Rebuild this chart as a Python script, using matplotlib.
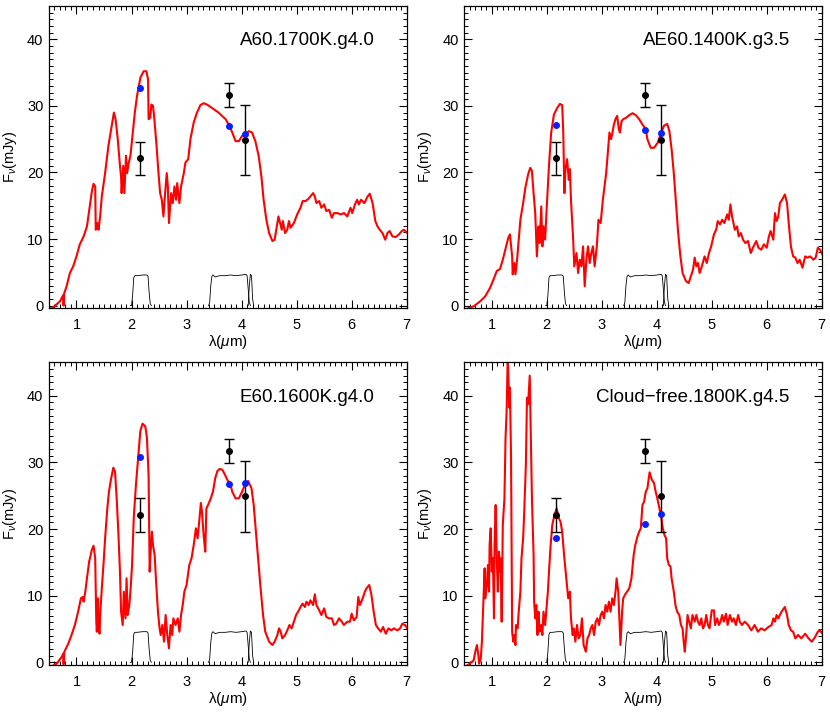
import numpy as np
import matplotlib
matplotlib.use('Agg')
import matplotlib.pyplot as plt

plt.rcParams['font.family'] = ['Liberation Sans', 'DejaVu Sans']
plt.rcParams['mathtext.fontset'] = 'custom'
plt.rcParams['mathtext.rm'] = 'Liberation Sans'
plt.rcParams['mathtext.it'] = 'Liberation Sans:italic'

# observed photometry (K, L', 4.05 um)
obs_wave = [2.16, 3.78, 4.07]
obs_flux = [22.1, 31.7, 24.9]
obs_err = [2.5, 1.8, 5.3]

# filter transmission curves (scaled)
k_wave = [1.98, 2.00, 2.02, 2.04, 2.06, 2.10, 2.20, 2.28, 2.30, 2.32, 2.34, 2.36]
k_tran = [0.0, 0.0, 1.5, 4.2, 4.5, 4.5, 4.6, 4.6, 4.4, 2.0, 0.3, 0.0]
lp_wave = [3.40, 3.42, 3.44, 3.46, 3.48, 3.52, 3.60, 3.70, 3.80, 3.90, 4.00, 4.08, 4.10, 4.12, 4.14, 4.16]
lp_tran = [0.0, 0.5, 3.0, 4.4, 4.6, 4.3, 4.5, 4.5, 4.6, 4.5, 4.6, 4.7, 4.5, 2.5, 0.5, 0.0]
nb_wave = [4.12, 4.14, 4.16, 4.18, 4.20, 4.22]
nb_tran = [0.0, 3.0, 4.7, 4.5, 1.0, 0.0]

# model A60.1700K.g4.0
wave_a60 = [0.50, 0.52, 0.60, 0.70, 0.76, 0.765, 0.775, 0.82, 0.88, 0.94, 1.00, 1.06, 1.13, 1.19, 1.25,
            1.28, 1.31, 1.34, 1.35, 1.38, 1.40, 1.43, 1.46, 1.52, 1.58, 1.64, 1.68, 1.71, 1.75, 1.79,
            1.81, 1.82, 1.85, 1.87, 1.90, 1.92, 1.95, 1.98, 2.01, 2.06, 2.10, 2.16, 2.22, 2.27, 2.30,
            2.31, 2.34, 2.36, 2.39, 2.41, 2.45, 2.49, 2.52, 2.55, 2.58, 2.61, 2.64, 2.66, 2.68, 2.72,
            2.75, 2.78, 2.81, 2.83, 2.87, 2.90, 2.95, 2.98, 3.03, 3.07, 3.13, 3.19, 3.25, 3.31, 3.37,
            3.46, 3.58, 3.71, 3.78, 3.83, 3.89, 3.95, 4.01, 4.07, 4.13, 4.19, 4.25, 4.31, 4.36, 4.40,
            4.45, 4.50, 4.56, 4.60, 4.63, 4.67, 4.70, 4.73, 4.75, 4.79, 4.83, 4.86, 4.89, 4.95, 5.01,
            5.07, 5.11, 5.16, 5.21, 5.25, 5.30, 5.33, 5.36, 5.41, 5.45, 5.50, 5.54, 5.59, 5.64, 5.68,
            5.74, 5.80, 5.86, 5.92, 5.98, 6.01, 6.06, 6.10, 6.13, 6.17, 6.23, 6.29, 6.33, 6.38, 6.43,
            6.47, 6.51, 6.56, 6.61, 6.65, 6.69, 6.74, 6.80, 6.86, 6.91, 6.95, 7.01]
flux_a60 = [-0.6, -0.5, -0.1, 0.65, 1.6, 0.0, 1.8, 2.9, 4.9, 5.9, 7.4, 9.2, 10.4, 11.9, 15.4,
            17.2, 18.3, 17.9, 11.4, 12.4, 11.4, 13.4, 16.4, 19.9, 24.0, 27.0, 29.0, 28.0, 25.0, 21.0,
            19.4, 16.9, 21.0, 16.9, 22.5, 19.9, 21.5, 22.5, 25.0, 29.0, 31.5, 34.2, 35.2, 35.2, 34.0,
            28.0, 28.2, 30.2, 30.0, 28.5, 24.5, 19.9, 16.9, 15.9, 13.4, 16.9, 19.9, 17.9, 12.4, 16.9,
            15.4, 17.9, 15.9, 18.4, 15.4, 17.9, 19.9, 21.5, 22.0, 25.0, 27.5, 29.0, 30.1, 30.4, 30.2,
            29.7, 29.0, 28.0, 27.0, 26.0, 24.7, 24.7, 25.5, 25.7, 26.2, 26.0, 24.7, 22.5, 19.4, 15.9,
            12.9, 10.9, 9.7, 9.9, 11.4, 13.4, 12.4, 11.4, 12.7, 10.9, 11.4, 12.7, 11.7, 12.4, 13.7,
            14.7, 15.7, 15.7, 16.0, 16.4, 16.9, 16.4, 15.4, 15.7, 14.7, 15.2, 14.2, 14.4, 13.2, 13.9,
            13.9, 13.7, 13.9, 13.4, 14.7, 13.9, 15.2, 15.9, 15.2, 15.9, 15.4, 16.4, 16.8, 15.4, 12.7,
            11.9, 11.4, 10.9, 9.9, 10.9, 11.2, 10.4, 10.3, 10.7, 11.2, 11.4, 10.9]
synth_a60 = [32.7, 27.0, 25.8]

# model AE60.1400K.g3.5
wave_ae60 = [0.50, 0.54, 0.67, 0.79, 0.88, 0.97, 1.03, 1.09, 1.15, 1.20, 1.26, 1.30, 1.33, 1.37, 1.38,
             1.41, 1.43, 1.46, 1.49, 1.52, 1.57, 1.61, 1.66, 1.70, 1.73, 1.76, 1.79, 1.82, 1.85, 1.87,
             1.90, 1.92, 1.94, 1.97, 2.00, 2.04, 2.08, 2.13, 2.19, 2.24, 2.28, 2.30, 2.32, 2.34, 2.37,
             2.40, 2.42, 2.44, 2.48, 2.50, 2.54, 2.57, 2.60, 2.63, 2.66, 2.69, 2.72, 2.75, 2.78, 2.81,
             2.84, 2.87, 2.91, 2.94, 2.98, 3.02, 3.05, 3.08, 3.11, 3.14, 3.17, 3.20, 3.22, 3.25, 3.28,
             3.31, 3.33, 3.36, 3.39, 3.44, 3.50, 3.56, 3.62, 3.68, 3.74, 3.80, 3.83, 3.89, 3.95, 4.02,
             4.06, 4.13, 4.19, 4.23, 4.27, 4.31, 4.35, 4.39, 4.43, 4.47, 4.53, 4.58, 4.62, 4.66, 4.69,
             4.72, 4.75, 4.78, 4.82, 4.87, 4.91, 4.95, 4.99, 5.04, 5.08, 5.11, 5.15, 5.19, 5.23, 5.28,
             5.31, 5.34, 5.37, 5.42, 5.46, 5.49, 5.53, 5.57, 5.61, 5.66, 5.71, 5.76, 5.81, 5.85, 5.90,
             5.95, 6.00, 6.04, 6.07, 6.12, 6.15, 6.18, 6.21, 6.24, 6.28, 6.33, 6.37, 6.40, 6.44, 6.48,
             6.52, 6.56, 6.60, 6.65, 6.70, 6.74, 6.79, 6.85, 6.89, 6.93, 6.97, 7.03]
flux_ae60 = [-0.6, -0.5, -0.1, 0.65, 1.4, 2.7, 3.9, 5.2, 5.5, 6.9, 8.9, 10.2, 10.7, 7.4, 4.7,
             6.4, 4.7, 6.9, 9.9, 12.9, 15.4, 17.7, 19.7, 20.7, 20.2, 16.9, 13.9, 7.4, 11.9, 9.4,
             14.9, 8.9, 11.9, 9.9, 14.9, 21.0, 26.0, 28.7, 29.7, 30.3, 30.1, 26.0, 16.9, 20.5, 22.0,
             18.9, 20.5, 15.9, 9.9, 5.9, 7.9, 4.9, 6.9, 5.9, 8.9, 2.9, 6.9, 8.9, 6.4, 7.9,
             8.9, 5.9, 8.9, 12.9, 12.4, 15.9, 17.9, 19.9, 23.0, 26.0, 25.0, 26.2, 27.2, 28.0, 28.5,
             26.5, 26.0, 27.7, 28.0, 28.2, 28.6, 28.9, 28.6, 28.0, 27.2, 26.5, 25.0, 23.7, 23.7, 24.5,
             25.5, 27.0, 27.3, 26.2, 23.5, 19.9, 15.4, 10.9, 7.4, 4.9, 3.7, 3.4, 4.4, 5.4, 7.2,
             5.9, 6.4, 4.9, 5.9, 7.4, 6.4, 7.9, 8.9, 10.7, 11.4, 12.7, 12.2, 12.9, 12.4, 13.7,
             12.9, 15.2, 13.4, 11.4, 11.9, 10.4, 10.9, 9.9, 9.4, 9.7, 7.9, 8.9, 9.7, 8.7, 8.4,
             9.2, 8.7, 10.4, 11.2, 9.9, 13.9, 12.7, 13.4, 15.4, 15.9, 16.7, 15.4, 12.4, 8.9, 7.4,
             7.2, 6.4, 6.9, 5.7, 7.4, 7.2, 7.4, 6.9, 7.2, 8.7, 8.4, 7.4]
synth_ae60 = [27.1, 26.4, 26.0]

# model E60.1600K.g4.0
wave_e60 = [0.50, 0.52, 0.64, 0.73, 0.76, 0.765, 0.78, 0.85, 0.91, 0.97, 1.03, 1.08, 1.11, 1.13, 1.16,
            1.19, 1.23, 1.28, 1.31, 1.34, 1.36, 1.37, 1.39, 1.40, 1.42, 1.43, 1.46, 1.49, 1.52, 1.56,
            1.59, 1.63, 1.67, 1.70, 1.73, 1.76, 1.79, 1.81, 1.84, 1.86, 1.89, 1.91, 1.93, 1.96, 1.98,
            2.01, 2.04, 2.08, 2.12, 2.16, 2.20, 2.25, 2.28, 2.31, 2.33, 2.34, 2.37, 2.39, 2.42, 2.45,
            2.48, 2.51, 2.53, 2.56, 2.59, 2.62, 2.65, 2.68, 2.71, 2.74, 2.76, 2.80, 2.84, 2.87, 2.90,
            2.93, 2.96, 3.00, 3.05, 3.09, 3.13, 3.17, 3.20, 3.23, 3.26, 3.28, 3.31, 3.34, 3.36, 3.39,
            3.44, 3.48, 3.52, 3.56, 3.60, 3.65, 3.70, 3.74, 3.80, 3.83, 3.89, 3.95, 4.01, 4.07, 4.12,
            4.18, 4.22, 4.26, 4.30, 4.34, 4.39, 4.43, 4.50, 4.56, 4.60, 4.65, 4.68, 4.71, 4.74, 4.79,
            4.83, 4.87, 4.91, 4.95, 4.99, 5.04, 5.09, 5.11, 5.15, 5.18, 5.22, 5.25, 5.30, 5.33, 5.36,
            5.41, 5.45, 5.50, 5.54, 5.59, 5.64, 5.68, 5.72, 5.77, 5.82, 5.86, 5.92, 5.97, 6.00, 6.04,
            6.09, 6.12, 6.15, 6.20, 6.24, 6.27, 6.32, 6.36, 6.40, 6.44, 6.48, 6.53, 6.57, 6.62, 6.67,
            6.72, 6.77, 6.83, 6.88, 6.92, 6.97, 7.01]
flux_e60 = [-0.8, -0.7, -0.2, 0.8, 1.3, -0.3, 1.6, 2.8, 4.1, 5.6, 7.6, 9.6, 9.8, 9.1, 10.6,
            12.6, 15.1, 16.9, 17.5, 15.6, 6.1, 4.6, 9.6, 5.1, 4.3, 7.1, 11.1, 14.6, 18.6, 23.1,
            25.6, 27.6, 29.2, 28.6, 24.6, 19.6, 13.6, 7.6, 5.6, 10.6, 6.6, 12.6, 7.1, 8.6, 10.6,
            14.6, 21.6, 26.6, 30.7, 34.7, 35.8, 35.4, 33.7, 28.1, 13.6, 15.6, 19.6, 17.6, 16.1, 11.6,
            7.6, 5.1, 4.1, 5.6, 3.1, 7.1, 4.1, 2.1, 5.6, 4.1, 6.6, 5.6, 6.6, 4.6, 7.1,
            8.6, 10.6, 11.6, 14.6, 15.6, 17.6, 20.1, 18.6, 21.1, 23.9, 22.6, 19.1, 16.6, 23.1, 23.6,
            24.6, 25.6, 27.6, 28.7, 29.0, 28.9, 28.1, 27.4, 26.6, 25.6, 24.6, 24.6, 25.6, 26.9, 27.2,
            26.1, 23.6, 19.6, 15.6, 11.6, 7.1, 4.6, 3.1, 2.6, 3.1, 4.1, 5.1, 4.6, 3.6, 4.1,
            4.8, 5.6, 5.1, 6.1, 7.1, 7.8, 8.6, 8.8, 8.3, 9.1, 8.6, 9.3, 8.6, 10.2, 8.6,
            7.8, 7.1, 8.1, 6.8, 6.6, 6.6, 5.6, 5.8, 6.6, 6.1, 5.6, 6.1, 6.1, 7.3, 6.3,
            6.8, 9.8, 8.6, 9.6, 10.6, 11.1, 11.6, 10.1, 7.6, 5.6, 5.1, 4.6, 5.3, 4.3, 5.1,
            4.8, 5.1, 4.8, 5.1, 5.8, 5.6, 5.1]
synth_e60 = [30.8, 26.7, 26.9]

# model Cloud-free.1800K.g4.5
wave_cf = [0.50, 0.51, 0.60, 0.67, 0.70, 0.73, 0.76, 0.77, 0.80, 0.82, 0.85, 0.87, 0.88, 0.91, 0.93,
           0.95, 0.96, 0.98, 1.00, 1.02, 1.04, 1.05, 1.07, 1.09, 1.11, 1.13, 1.15, 1.16, 1.18, 1.20,
           1.23, 1.25, 1.27, 1.29, 1.30, 1.32, 1.33, 1.35, 1.37, 1.39, 1.41, 1.43, 1.44, 1.47, 1.49,
           1.52, 1.54, 1.57, 1.59, 1.62, 1.64, 1.66, 1.68, 1.69, 1.71, 1.73, 1.76, 1.77, 1.79, 1.81,
           1.83, 1.85, 1.87, 1.90, 1.92, 1.94, 1.97, 1.99, 2.02, 2.04, 2.07, 2.10, 2.14, 2.18, 2.22,
           2.25, 2.28, 2.32, 2.35, 2.37, 2.39, 2.42, 2.44, 2.47, 2.49, 2.52, 2.55, 2.58, 2.61, 2.64,
           2.67, 2.71, 2.74, 2.77, 2.80, 2.83, 2.86, 2.89, 2.92, 2.95, 2.98, 3.01, 3.04, 3.07, 3.10,
           3.13, 3.16, 3.19, 3.22, 3.25, 3.27, 3.30, 3.32, 3.34, 3.37, 3.39, 3.42, 3.50, 3.54, 3.58,
           3.61, 3.65, 3.68, 3.71, 3.74, 3.77, 3.80, 3.83, 3.87, 3.91, 3.95, 3.98, 4.01, 4.05, 4.08,
           4.11, 4.14, 4.17, 4.19, 4.22, 4.25, 4.27, 4.31, 4.34, 4.37, 4.41, 4.44, 4.47, 4.49, 4.51,
           4.54, 4.56, 4.59, 4.62, 4.65, 4.69, 4.72, 4.75, 4.78, 4.81, 4.84, 4.87, 4.90, 4.93, 4.96,
           5.00, 5.04, 5.06, 5.10, 5.13, 5.16, 5.19, 5.22, 5.26, 5.29, 5.33, 5.37, 5.40, 5.44, 5.48,
           5.51, 5.55, 5.60, 5.66, 5.72, 5.78, 5.84, 5.90, 5.96, 6.03, 6.09, 6.12, 6.15, 6.18, 6.21,
           6.27, 6.33, 6.37, 6.40, 6.44, 6.48, 6.52, 6.57, 6.63, 6.70, 6.76, 6.82, 6.88, 6.93, 6.97,
           7.03]
flux_cf = [-0.8, -0.7, -0.2, 0.3, 1.6, 2.6, 0.8, -0.2, 0.6, 3.1, 9.6, 14.1, 9.6, 11.6, 14.6,
           10.6, 17.6, 20.1, 13.6, 15.6, 6.6, 17.6, 23.6, 15.6, 10.6, 16.6, 13.6, 15.6, 6.1, 20.6,
           24.6, 33.7, 37.7, 46.0, 43.0, 38.2, 41.2, 30.7, 4.6, 3.1, 4.1, 2.6, 5.6, 5.1, 7.6,
           10.6, 15.6, 18.6, 22.6, 29.7, 39.7, 38.7, 41.7, 43.0, 34.2, 24.6, 16.1, 9.1, 6.6, 8.6,
           4.1, 7.6, 4.6, 5.6, 4.1, 7.6, 5.6, 7.6, 10.6, 13.6, 17.6, 20.6, 22.1, 23.1, 21.6,
           21.1, 19.6, 15.6, 13.1, 11.6, 9.6, 10.6, 6.6, 4.1, 5.1, 3.1, 5.6, 3.6, 4.1, 6.6,
           2.6, 1.6, 3.6, 4.1, 5.1, 5.6, 4.1, 6.1, 6.6, 5.6, 7.1, 7.6, 6.6, 8.6, 7.6,
           9.1, 7.6, 9.6, 8.6, 10.6, 12.6, 10.6, 6.6, 2.6, 7.6, 9.6, 10.1, 11.1, 12.6, 16.1,
           17.6, 18.9, 19.6, 20.1, 23.6, 24.1, 25.6, 26.1, 28.5, 27.4, 26.9, 25.6, 24.6, 23.1, 21.9,
           20.1, 19.1, 18.6, 15.6, 14.6, 14.4, 12.6, 10.6, 8.6, 7.6, 7.1, 5.6, 5.1, 3.1, 1.6,
           4.6, 7.1, 6.1, 5.1, 7.1, 6.1, 7.1, 6.1, 5.6, 6.6, 5.1, 5.6, 7.1, 5.6, 5.1,
           7.8, 7.8, 5.6, 6.6, 5.6, 6.1, 7.1, 6.1, 7.3, 5.6, 7.1, 6.1, 6.6, 5.6, 7.1,
           6.1, 5.6, 6.1, 5.6, 4.8, 5.6, 4.6, 5.1, 4.8, 5.3, 5.6, 6.6, 6.1, 7.1, 6.6,
           7.6, 8.3, 7.1, 5.6, 4.8, 4.6, 3.6, 4.1, 3.6, 4.3, 3.6, 3.1, 3.8, 4.6, 4.8,
           4.1]
synth_cf = [18.6, 20.7, 22.3]

models = [
    ('A60.1700K.g4.0', wave_a60, flux_a60, synth_a60),
    ('AE60.1400K.g3.5', wave_ae60, flux_ae60, synth_ae60),
    ('E60.1600K.g4.0', wave_e60, flux_e60, synth_e60),
    ('Cloud\u2212free.1800K.g4.5', wave_cf, flux_cf, synth_cf),
]

# axes boxes in figure fractions [left, bottom, width, height]
boxes = [
    [0.0590, 0.5670, 0.4310, 0.4246],
    [0.5594, 0.5670, 0.4306, 0.4246],
    [0.0590, 0.0660, 0.4310, 0.4251],
    [0.5594, 0.0660, 0.4306, 0.4251],
]

fig = plt.figure(figsize=(8.3, 7.12), dpi=100)

for (name, wave, flux, synth), box in zip(models, boxes):
    ax = fig.add_axes(box)
    ax.plot(wave, flux, color='red', lw=1.5, zorder=2)

    # filter profiles
    ax.plot(k_wave, k_tran, color='black', lw=0.6, zorder=1)
    ax.plot(lp_wave, lp_tran, color='black', lw=0.6, zorder=1)
    ax.plot(nb_wave, nb_tran, color='black', lw=0.6, zorder=1)

    ax.errorbar(obs_wave, obs_flux, yerr=obs_err, fmt='o', color='black', ms=4,
                lw=1.0, capsize=3.5, capthick=1.0, zorder=3)
    ax.plot(obs_wave, synth, 'o', color='#0a1eff', ms=4, zorder=4)

    ax.text(6.42, 39.8, name, ha='right', va='center', fontsize=13.5)

    ax.set_xlim(0.5, 7)
    ax.set_ylim(-0.4, 45)
    ax.set_xticks([1, 2, 3, 4, 5, 6, 7])
    ax.set_yticks([0, 10, 20, 30, 40])
    ax.set_xticks(np.arange(0.5, 7.01, 0.1), minor=True)
    ax.set_yticks(np.arange(0, 45.1, 1), minor=True)
    ax.tick_params(which='both', direction='in', top=True, right=True, labelsize=10.5)
    ax.tick_params(which='major', length=6, width=0.8)
    ax.tick_params(which='minor', length=3, width=0.7)
    ax.tick_params(axis='x', pad=7)
    ax.tick_params(axis='y', pad=4)
    for sp in ax.spines.values():
        sp.set_linewidth(0.9)

    ax.set_xlabel('\u03bb($\\mu$m)', fontsize=11, labelpad=1)
    ax.set_ylabel('F$_\\nu$(mJy)', fontsize=10.5, labelpad=6)

fig.savefig('out.png', dpi=100)
